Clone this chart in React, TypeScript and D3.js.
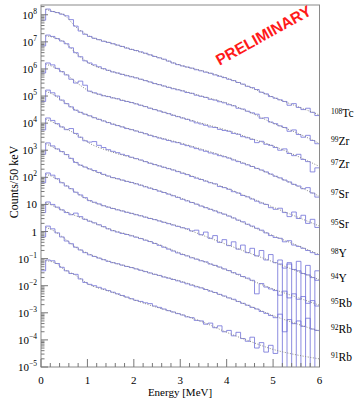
import { useEffect, useRef } from "react";
import * as d3 from "d3";

// log10(counts / 50 keV), 100 keV bins from 0 to 6 MeV; null = empty bin
const hist108Tc = [7.80, 8.21, 8.12, 8.08, 8.02, 7.96, 7.82, 7.58, 7.40, 7.28, 7.20, 7.13, 7.08, 7.02, 6.98, 6.93, 6.88, 6.83, 6.77, 6.72, 6.68, 6.63, 6.58, 6.52, 6.46, 6.41, 6.36, 6.29, 6.22, 6.16, 6.11, 6.07, 6.03, 5.97, 5.93, 5.88, 5.84, 5.78, 5.73, 5.68, 5.62, 5.57, 5.50, 5.44, 5.36, 5.31, 5.24, 5.14, 5.08, 4.98, 4.92, 4.86, 4.80, 4.66, 4.72, 4.58, 4.50, 4.55, 4.40, 4.28];
const hist99Zr = [6.85, 7.25, 7.20, 7.12, 7.03, 6.93, 6.78, 6.60, 6.45, 6.30, 6.22, 6.15, 6.08, 6.01, 5.95, 5.89, 5.85, 5.80, 5.75, 5.71, 5.67, 5.62, 5.57, 5.52, 5.46, 5.42, 5.37, 5.32, 5.27, 5.23, 5.19, 5.13, 5.10, 5.03, 4.99, 4.95, 4.88, 4.85, 4.79, 4.75, 4.68, 4.64, 4.55, 4.52, 4.44, 4.38, 4.33, 4.18, 4.20, 4.04, 3.98, 3.90, 3.84, 3.70, 3.75, 3.58, 3.48, 3.55, 3.36, 3.24];
const hist97Zr = [5.85, 6.22, 6.15, 6.02, 5.90, 5.78, 5.62, 5.48, 5.55, 5.40, 5.18, 5.12, 5.07, 5.01, 4.98, 4.93, 4.90, 4.84, 4.80, 4.76, 4.71, 4.66, 4.61, 4.55, 4.50, 4.45, 4.40, 4.35, 4.29, 4.24, 4.19, 4.14, 4.08, 4.01, 3.97, 3.92, 3.86, 3.84, 3.77, 3.73, 3.70, 3.62, 3.59, 3.50, 3.46, 3.40, 3.28, 3.33, 3.22, 3.18, 3.10, 3.00, 3.05, 2.88, 2.80, 2.85, 2.66, 2.58, 2.20, 2.35];
const hist97Sr = [4.80, 5.22, 5.12, 5.00, 4.85, 4.72, 4.60, 4.48, 4.40, 4.33, 4.27, 4.20, 4.14, 4.08, 4.02, 3.96, 3.91, 3.86, 3.80, 3.76, 3.71, 3.66, 3.61, 3.55, 3.50, 3.45, 3.41, 3.36, 3.31, 3.28, 3.22, 3.17, 3.12, 3.06, 3.01, 2.96, 2.90, 2.86, 2.80, 2.76, 2.71, 2.64, 2.58, 2.52, 2.46, 2.40, 2.33, 2.27, 2.20, 2.12, 2.04, 1.98, 1.90, 1.83, 1.74, 1.68, 1.58, 1.62, 1.42, 1.27];
const hist95Sr = [3.75, 4.19, 4.10, 3.98, 3.86, 3.76, 3.80, 3.62, 3.48, 3.35, 3.30, 3.32, 3.18, 3.10, 3.02, 2.96, 2.91, 2.85, 2.80, 2.74, 2.69, 2.64, 2.58, 2.52, 2.47, 2.42, 2.37, 2.32, 2.27, 2.21, 2.15, 2.10, 2.03, 1.97, 1.92, 1.86, 1.80, 1.76, 1.66, 1.62, 1.56, 1.47, 1.42, 1.33, 1.28, 1.20, 1.12, 1.05, 1.00, 0.88, 0.82, 0.86, 0.70, 0.55, 0.72, 0.48, 0.60, 0.30, 0.45, 0.15];
const hist98Y = [2.85, 3.27, 3.16, 3.05, 2.95, 2.84, 2.70, 2.55, 2.45, 2.38, 2.31, 2.25, 2.18, 2.11, 2.05, 1.99, 1.95, 1.90, 1.85, 1.81, 1.76, 1.71, 1.65, 1.60, 1.55, 1.49, 1.44, 1.38, 1.32, 1.26, 1.19, 1.13, 1.07, 1.01, 0.94, 0.88, 0.82, 0.76, 0.69, 0.64, 0.57, 0.50, 0.42, 0.36, 0.27, 0.20, 0.12, 0.05, -0.05, -0.15, -0.22, -0.25, -0.38, -0.34, -0.50, -0.55, -0.62, -0.70, -0.78, -0.85];
const hist94Y = [1.80, 2.16, 2.08, 1.95, 1.80, 1.68, 1.58, 1.45, 1.35, 1.25, 1.14, 1.08, 1.02, 0.95, 0.90, 0.85, 0.80, 0.76, 0.71, 0.67, 0.62, 0.58, 0.53, 0.48, 0.44, 0.39, 0.34, 0.29, 0.24, 0.19, 0.14, 0.10, 0.02, 0.05, -0.12, -0.02, -0.25, -0.15, -0.40, -0.30, -0.52, -0.38, -0.65, -0.50, -0.78, -0.62, -0.90, -0.70, -1.05, -0.85, -1.15, -1.05, -1.35, -1.20, -1.40, -1.45, -1.55, -1.60, -1.70, -1.80];
const hist95Rb = [0.70, 1.09, 1.00, 0.90, 0.80, 0.70, 0.62, 0.68, 0.55, 0.45, 0.38, 0.32, 0.25, 0.18, 0.10, 0.03, -0.02, -0.07, -0.11, -0.16, -0.21, -0.26, -0.32, -0.37, -0.44, -0.51, -0.58, -0.65, -0.72, -0.79, -0.85, -0.90, -0.97, -1.02, -1.08, -1.12, -1.20, -1.25, -1.31, -1.38, -1.44, -1.52, -1.58, -1.66, -1.72, -1.80, -2.30, -1.92, -2.05, -2.12, -2.18, -2.35, -2.20, -2.45, -2.30, -2.50, -2.40, -2.65, -2.55, -2.75];
const hist92Rb = [-0.20, 0.20, 0.10, -0.05, -0.20, -0.35, -0.45, -0.58, -0.68, -0.78, -0.86, -0.92, -0.98, -1.04, -1.10, -1.15, -1.19, -1.24, -1.29, -1.33, -1.38, -1.43, -1.48, -1.53, -1.58, -1.62, -1.68, -1.72, -1.77, -1.82, -1.87, -1.93, -1.98, -2.04, -2.08, -2.14, -2.20, -2.25, -2.32, -2.38, -2.45, -2.50, -2.58, -2.65, -2.72, -2.80, -2.86, -2.95, -3.02, -3.10, -3.18, -3.05, -3.70, -3.25, -3.40, -3.30, -3.50, -3.20, -3.60, -3.65];
const hist91Rb = [-1.45, -1.05, -1.08, -1.18, -1.32, -1.45, -1.55, -1.58, -1.75, -1.88, -1.95, -2.00, -2.06, -2.12, -2.18, -2.24, -2.30, -2.36, -2.42, -2.48, -2.54, -2.58, -2.63, -2.66, -2.75, -2.80, -2.86, -2.92, -2.97, -3.03, -3.08, -3.15, -3.18, -3.28, -3.30, -3.42, -3.38, -3.55, -3.48, -3.70, -3.65, -3.85, -3.72, -3.95, -4.05, -3.90, -4.30, -4.10, -4.45, -4.20, -4.50, -1.20, null, -1.15, null, -1.10, null, -1.25, null, -1.45];

// fitted curves, log10(counts) at these energies (MeV)
const fitEnergy = [0.1, 0.3, 0.5, 0.75, 1, 1.5, 2, 2.5, 3, 3.5, 4, 4.5, 5, 5.5, 6];
const fit108Tc = [8.20, 8.10, 7.99, 7.55, 7.25, 6.96, 6.70, 6.44, 6.14, 5.92, 5.66, 5.33, 4.96, 4.63, 4.30];
const fit99Zr = [7.22, 7.15, 6.99, 6.59, 6.25, 5.92, 5.70, 5.44, 5.22, 4.98, 4.74, 4.40, 4.00, 3.65, 3.25];
const fit97Zr = [6.18, 6.05, 5.85, 5.52, 5.22, 4.96, 4.74, 4.48, 4.22, 3.98, 3.74, 3.45, 3.16, 2.80, 2.40];
const fit97Sr = [5.18, 5.02, 4.78, 4.48, 4.30, 4.00, 3.74, 3.49, 3.27, 3.02, 2.75, 2.44, 2.08, 1.70, 1.30];
const fit95Sr = [4.15, 4.00, 3.82, 3.60, 3.30, 2.95, 2.71, 2.45, 2.20, 1.90, 1.60, 1.25, 0.90, 0.55, 0.20];
const fit98Y = [3.24, 3.08, 2.90, 2.55, 2.34, 2.01, 1.79, 1.53, 1.24, 0.92, 0.61, 0.22, -0.15, -0.50, -0.85];
const fit94Y = [2.12, 1.98, 1.75, 1.45, 1.18, 0.88, 0.65, 0.42, 0.17, -0.15, -0.48, -0.80, -1.12, -1.45, -1.78];
const fit95Rb = [1.06, 0.92, 0.76, 0.58, 0.42, 0.07, -0.17, -0.46, -0.80, -1.10, -1.42, -1.78, -2.12, -2.42, -2.72];
const fit92Rb = [0.16, 0.00, -0.25, -0.58, -0.80, -1.12, -1.35, -1.60, -1.83, -2.10, -2.42, -2.75, -3.10, -3.40, -3.68];
const fit91Rb = [-1.08, -1.15, -1.40, -1.62, -1.92, -2.22, -2.52, -2.80, -3.05, -3.35, -3.72, -4.05, -4.35, -4.55, -4.70];

const isotopeMass = ["108", "99", "97", "97", "95", "98", "94", "95", "92", "91"];
const isotopeSymbol = ["Tc", "Zr", "Zr", "Sr", "Sr", "Y", "Y", "Rb", "Rb", "Rb"];
const histograms = [hist108Tc, hist99Zr, hist97Zr, hist97Sr, hist95Sr, hist98Y, hist94Y, hist95Rb, hist92Rb, hist91Rb];
const fits = [fit108Tc, fit99Zr, fit97Zr, fit97Sr, fit95Sr, fit98Y, fit94Y, fit95Rb, fit92Rb, fit91Rb];

const binWidth = 0.1;
const xTicks = [0, 1, 2, 3, 4, 5, 6];
const yDecades = d3.range(-5, 9);

export default function App() {
  const svgRef = useRef<SVGSVGElement>(null);

  useEffect(() => {
    const W = 355, H = 399;
    const margin = { top: 5, right: 35, bottom: 32, left: 41 };
    const svg = d3.select(svgRef.current).attr("width", W).attr("height", H);
    svg.selectAll("*").remove();

    const x = d3.scaleLinear().domain([0, 6]).range([margin.left, W - margin.right - 0.5]);
    const y = d3.scaleLog().domain([1e-5, Math.pow(10, 8.36)]).range([H - margin.bottom, margin.top]);
    const y0 = y.range()[0];
    const serif = "'Liberation Serif', 'DejaVu Serif', serif";

    svg.append("rect").attr("width", W).attr("height", H).attr("fill", "white");

    svg.append("defs").append("clipPath").attr("id", "plotclip")
      .append("rect")
      .attr("x", x(0)).attr("y", margin.top)
      .attr("width", x(6) - x(0)).attr("height", y0 - margin.top);

    const g = svg.append("g").attr("clip-path", "url(#plotclip)");

    // histograms
    const step = d3.line<[number, number | null]>()
      .x(d => x(d[0]))
      .y(d => (d[1] === null ? y0 + 2 : y(Math.pow(10, d[1]))))
      .curve(d3.curveStepAfter);

    histograms.forEach(h => {
      const pts: [number, number | null][] = h.map((v, i) => [i * binWidth, v]);
      pts.push([h.length * binWidth, h[h.length - 1]]);
      g.append("path")
        .attr("d", step(pts))
        .attr("fill", "none")
        .attr("stroke", "#7070d8")
        .attr("stroke-width", 0.8);
    });

    // fits
    const smooth = d3.line<number>()
      .x((_, i) => x(fitEnergy[i]))
      .y(d => y(Math.pow(10, d)))
      .curve(d3.curveMonotoneX);

    fits.forEach(f => {
      g.append("path")
        .attr("d", smooth(f))
        .attr("fill", "none")
        .attr("stroke", "#888")
        .attr("stroke-width", 1)
        .attr("stroke-dasharray", "1 1.6");
    });

    // frame
    svg.append("rect")
      .attr("x", x(0)).attr("y", margin.top)
      .attr("width", x(6) - x(0)).attr("height", y0 - margin.top)
      .attr("fill", "none").attr("stroke", "#8a8a8a").attr("stroke-width", 1);

    // x ticks
    const ax = svg.append("g").attr("stroke", "#777").attr("stroke-width", 1);
    d3.range(0, 31).forEach(i => {
      const e = i * 0.2;
      const major = i % 5 === 0;
      ax.append("line")
        .attr("x1", x(e)).attr("x2", x(e))
        .attr("y1", y0).attr("y2", y0 - (major ? 8 : 4));
    });
    svg.append("g").selectAll("text").data(xTicks).enter().append("text")
      .attr("x", d => x(d)).attr("y", y0 + 17)
      .attr("text-anchor", "middle")
      .attr("font-family", serif).attr("font-size", 11)
      .text(d => d);

    // y ticks
    yDecades.forEach(k => {
      ax.append("line")
        .attr("x1", x(0)).attr("x2", x(0) + 7)
        .attr("y1", y(Math.pow(10, k))).attr("y2", y(Math.pow(10, k)));
      d3.range(2, 10).forEach(m => {
        const v = m * Math.pow(10, k);
        if (v > y.domain()[1]) return;
        ax.append("line")
          .attr("x1", x(0)).attr("x2", x(0) + 3.5)
          .attr("y1", y(v)).attr("y2", y(v));
      });
    });

    yDecades.forEach(k => {
      const t = svg.append("text")
        .attr("x", x(0) - 4).attr("y", y(Math.pow(10, k)) + 4)
        .attr("text-anchor", "end")
        .attr("font-family", serif).attr("font-size", 11);
      if (k === 0) t.text("1");
      else if (k === 1) t.text("10");
      else {
        t.append("tspan").text("10");
        t.append("tspan").attr("font-size", 7.5).attr("dy", -5).text(String(k).replace("-", "\u2212"));
      }
    });

    // axis titles
    svg.append("text")
      .attr("x", 180).attr("y", 396)
      .attr("text-anchor", "middle")
      .attr("font-family", serif).attr("font-size", 11)
      .text("Energy [MeV]");
    svg.append("text")
      .attr("transform", "translate(18,182) rotate(-90)")
      .attr("text-anchor", "middle")
      .attr("font-family", serif).attr("font-size", 12)
      .text("Counts/50 keV");

    // isotope labels
    fits.forEach((f, i) => {
      const t = svg.append("text")
        .attr("x", 331).attr("y", y(Math.pow(10, f[f.length - 1])) + 2)
        .attr("font-family", serif);
      t.append("tspan").attr("font-size", 7.5).attr("dy", -3).text(isotopeMass[i]);
      t.append("tspan").attr("font-size", 11.5).attr("dy", 3).text(isotopeSymbol[i]);
    });

    // watermark
    svg.append("text")
      .attr("transform", "translate(266,40) rotate(-29)")
      .attr("text-anchor", "middle")
      .attr("font-family", "'Liberation Sans', Arial, sans-serif")
      .attr("font-weight", "bold").attr("font-size", 15.5)
      .attr("fill", "#ff1a1a")
      .text("PRELIMINARY");
  }, []);

  return <svg ref={svgRef} style={{ position: "absolute", left: 0, top: 0 }}></svg>;
}
